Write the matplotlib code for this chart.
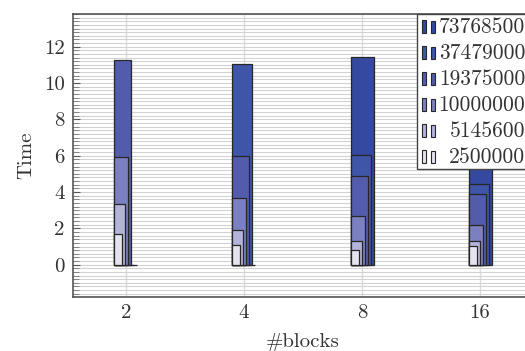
import matplotlib
matplotlib.use("Agg")
import matplotlib.pyplot as plt
from matplotlib.patches import Rectangle
import numpy as np

plt.rcParams['font.family'] = ['cmr10', 'DejaVu Serif']
plt.rcParams['mathtext.fontset'] = 'cm'
plt.rcParams['axes.formatter.use_mathtext'] = True

categories = ['2', '4', '8', '16']
series_labels = ['2500000', '5145600', '10000000', '19375000', '37479000', '73768500']
t_2500000 = [1.71, 1.10, 0.83, 1.02]
t_5145600 = [3.34, 1.93, 1.32, 1.29]
t_10000000 = [5.93, 3.69, 2.68, 2.21]
t_19375000 = [11.29, 5.98, 4.87, 3.88]
t_37479000 = [0.0, 11.07, 6.06, 4.43]
t_73768500 = [0.0, 0.0, 11.44, 8.0]
series_values = [t_2500000, t_5145600, t_10000000, t_19375000, t_37479000, t_73768500]
colors = ['#e4e4f1', '#b3b3db', '#7b80c1', '#535cac', '#3f55a8', '#34499f']
y_ticks = [0, 2, 4, 6, 8, 10, 12]

W, H = 525, 351
fig = plt.figure(figsize=(W / 100, H / 100), dpi=100)
left, right, top, bottom = 73, 533, 14, 297
ax = fig.add_axes([left / W, 1 - bottom / H, (right - left) / W, (bottom - top) / H])

x = np.arange(len(categories))
px_per_unit = 118.0
widths = [8, 11, 14, 17, 20, 23]
left_off = -11.5 / px_per_unit

for i in reversed(range(len(series_values))):
    w = widths[i] / px_per_unit
    ax.bar(x + left_off, series_values[i], width=w, align='edge',
           color=colors[i], edgecolor='#262626', linewidth=0.9,
           zorder=3 + (len(series_values) - i), label=series_labels[i])

ax.set_xlim(-0.449, 3.449)
ax.set_ylim(-1.78, 13.8)
ax.set_xticks(x)
ax.set_xticklabels(categories)
ax.set_yticks(y_ticks)
ax.set_yticklabels([str(v) for v in y_ticks])
ax.set_yticks(np.arange(-1.6, 13.81, 0.2), minor=True)

ax.grid(True, axis='x', which='major', color='#dcdcdc', linewidth=1.0, zorder=0)
ax.grid(True, axis='y', which='both', color='#d2d2d2', linewidth=0.8, zorder=0)
ax.set_axisbelow(True)

ax.tick_params(axis='y', which='major', direction='in', length=5, width=0.8, color='#555555',
               labelsize=15, labelcolor='#333333', left=True, right=False, pad=6)
ax.tick_params(axis='y', which='minor', direction='in', length=4, width=0.6, color='#777777')
ax.tick_params(axis='x', which='major', direction='in', length=0, labelsize=15,
               labelcolor='#333333', pad=5)

for s in ax.spines.values():
    s.set_color('#555555')
    s.set_linewidth(1.2)

ax.set_ylabel('Time', fontsize=15, color='#333333', labelpad=6)
ax.set_xlabel('#blocks', fontsize=15, color='#333333', labelpad=8)

# Legend drawn in pixel coordinates on an overlay (pgfplots-style, right-aligned labels)
ov = fig.add_axes([0, 0, 1, 1], zorder=20)
ov.set_xlim(0, W)
ov.set_ylim(H, 0)
ov.axis('off')
leg_left, leg_top, leg_bottom = 417, 13.5, 169
ov.add_patch(Rectangle((leg_left, leg_top), 140, leg_bottom - leg_top, facecolor='white',
                       edgecolor='#444444', linewidth=1.0))
n = len(series_labels)
row_h = (leg_bottom - leg_top) / n
for r, i in enumerate(reversed(range(n))):
    cy = leg_top + row_h * (r + 0.5)
    base = cy + 6.5
    ov.add_patch(Rectangle((422, base - 13), 4, 13, facecolor=colors[i],
                           edgecolor='#262626', linewidth=0.8))
    ov.add_patch(Rectangle((430.5, base - 12), 4.5, 12, facecolor=colors[i],
                           edgecolor='#262626', linewidth=0.8))
    ov.text(525, base, series_labels[i], ha='right', va='baseline', fontsize=15.5,
            color='#333333')

fig.savefig('out.png', dpi=100)
